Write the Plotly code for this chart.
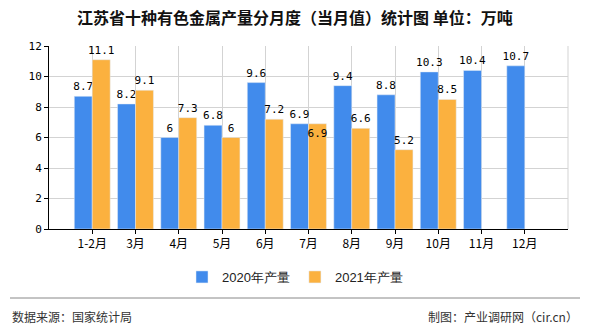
import plotly.graph_objects as go

categories = ["1-2月", "3月", "4月", "5月", "6月", "7月", "8月", "9月", "10月", "11月", "12月"]
values_2020 = [8.7, 8.2, 6, 6.8, 9.6, 6.9, 9.4, 8.8, 10.3, 10.4, 10.7]
values_2021 = [11.1, 9.1, 7.3, 6, 7.2, 6.9, 6.6, 5.2, 8.5, None, None]
y_ticks = [0, 2, 4, 6, 8, 10, 12]

font_cn = "Noto Sans CJK SC"
blue = "#418BEC"
orange = "#FBB13F"

xs = list(range(len(categories)))

# orange 7月 label is pushed down (overlap avoidance in the original)
pos_2021 = ["outside"] * len(values_2021)
pos_2021[5] = "inside"

fig = go.Figure()
fig.add_trace(go.Bar(
    x=xs, y=values_2020, name="2020年产量", marker_color=blue,
    text=[str(v) for v in values_2020], textposition="outside", textangle=0,
    textfont=dict(family="DejaVu Sans Mono", size=11, color="#000"),
    outsidetextfont=dict(family="DejaVu Sans Mono", size=11, color="#000"),
    constraintext="none", cliponaxis=False,
))
fig.add_trace(go.Bar(
    x=xs, y=values_2021, name="2021年产量", marker_color=orange,
    text=["" if v is None else str(v) for v in values_2021], textposition=pos_2021,
    insidetextanchor="end", textangle=0,
    textfont=dict(family="DejaVu Sans Mono", size=11, color="#000"),
    insidetextfont=dict(family="DejaVu Sans Mono", size=11, color="#000"),
    outsidetextfont=dict(family="DejaVu Sans Mono", size=11, color="#000"),
    constraintext="none", cliponaxis=False,
))

fig.update_layout(
    width=590, height=330,
    margin=dict(l=49, r=22, t=46, b=101),
    paper_bgcolor="white", plot_bgcolor="white",
    barmode="group", bargap=0.17, bargroupgap=0,
    font=dict(family=font_cn, size=12, color="#000"),
    showlegend=True,
    legend=dict(orientation="h", x=(295 - 49) / 519, xanchor="center",
                y=(229 - 277) / 183, yanchor="middle",
                font=dict(family="Liberation Sans Narrow, Liberation Sans", size=13, color="#222"),
                itemwidth=30, traceorder="normal"),
)
fig.update_xaxes(
    tickmode="array", tickvals=xs, ticktext=categories,
    range=[-1, len(categories)],
    showgrid=True, gridcolor="#D3D3D3", gridwidth=1,
    showline=True, linecolor="#000", linewidth=1,
    ticks="outside", ticklen=4, tickcolor="#000",
    tickfont=dict(family=font_cn, size=12, color="#000"),
    zeroline=False,
)
fig.update_yaxes(
    range=[0, 12], tickvals=y_ticks,
    showgrid=True, gridcolor="#D3D3D3", gridwidth=1,
    showline=True, linecolor="#000", linewidth=1,
    ticks="outside", ticklen=4, tickcolor="#000",
    tickfont=dict(family="DejaVu Sans Mono", size=11, color="#000"),
    zeroline=False,
)

# right border line of plot area
fig.add_shape(type="line", xref="paper", yref="paper", x0=1, x1=1, y0=0, y1=1,
              line=dict(color="#D3D3D3", width=1))
# separator line above footer
fig.add_shape(type="line", xref="paper", yref="paper", x0=(10 - 49) / 519, x1=(580 - 49) / 519,
              y0=(229 - 298) / 183, y1=(229 - 298) / 183,
              line=dict(color="#888", width=1))

fig.add_annotation(text="江苏省十种有色金属产量分月度（当月值）统计图 单位：万吨",
                   xref="paper", yref="paper", x=(295 - 49) / 519, y=(229 - 17) / 183,
                   xanchor="center", yanchor="middle", showarrow=False,
                   font=dict(family=font_cn, size=16, color="#111", weight="bold"))
fig.add_annotation(text="数据来源：国家统计局",
                   xref="paper", yref="paper", x=(10 - 49) / 519, y=(229 - 316) / 183,
                   xanchor="left", yanchor="middle", showarrow=False,
                   font=dict(family=font_cn, size=12, color="#333"))
fig.add_annotation(text="制图：产业调研网（cir.cn）",
                   xref="paper", yref="paper", x=(580 - 49) / 519, y=(229 - 316) / 183,
                   xanchor="right", yanchor="middle", showarrow=False,
                   font=dict(family=font_cn, size=12, color="#333"))

fig.write_html("out.html")
